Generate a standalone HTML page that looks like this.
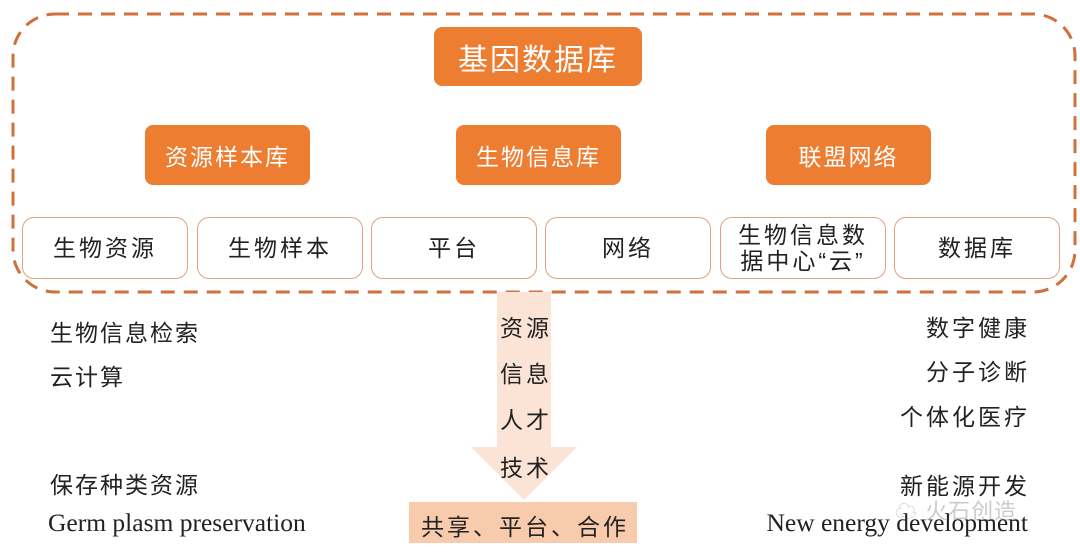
<html><head><style>
body{margin:0;width:1080px;height:557px;background:#fff;position:relative;font-family:"Liberation Sans","Noto Sans CJK SC",sans-serif;overflow:hidden}
.a{position:absolute}
.o{position:absolute;background:#ED7D31;color:#fff;border-radius:8px;display:flex;align-items:center;justify-content:center;letter-spacing:2px}
.w{position:absolute;border:1.5px solid #E0A080;border-radius:12px;background:#fff;display:flex;align-items:center;justify-content:center;font-size:23px;color:#222;letter-spacing:3px;text-align:center;line-height:26px}
.t{position:absolute;font-size:23px;color:#222;letter-spacing:2px;white-space:nowrap}
</style></head><body>
<svg class="a" style="left:0;top:0" width="1080" height="557">
<rect x="13" y="14" width="1062" height="278" rx="42" fill="none" stroke="#D0703A" stroke-width="3" stroke-dasharray="14,9"/>
<polygon points="497,292 551,292 551,447 577,447 524,500 471,447 497,447" fill="#FBE3D6"/>
<rect x="409" y="502" width="228" height="41" fill="#F8CBAD"/>
</svg>
<div class="o" style="left:434px;top:27px;width:208px;height:59px;font-size:30px">基因数据库</div>
<div class="o" style="left:145px;top:125px;width:165px;height:60px;font-size:23px">资源样本库</div>
<div class="o" style="left:456px;top:125px;width:165px;height:60px;font-size:23px">生物信息库</div>
<div class="o" style="left:766px;top:125px;width:165px;height:60px;font-size:23px">联盟网络</div>
<div class="w" style="left:22px;top:217px;width:164px;height:60px">生物资源</div>
<div class="w" style="left:197px;top:217px;width:164px;height:60px">生物样本</div>
<div class="w" style="left:371px;top:217px;width:164px;height:60px">平台</div>
<div class="w" style="left:545px;top:217px;width:164px;height:60px">网络</div>
<div class="w" style="left:720px;top:217px;width:164px;height:60px">生物信息数<br>据中心“云”</div>
<div class="w" style="left:894px;top:217px;width:164px;height:60px">数据库</div>
<div class="t" style="left:50px;top:314px">生物信息检索</div>
<div class="t" style="left:50px;top:358px">云计算</div>
<div class="t" style="left:50px;top:466px">保存种类资源</div>
<div class="t" style="left:48px;top:508px;font-family:'Liberation Serif',serif;letter-spacing:0;font-size:25.5px">Germ plasm preservation</div>
<div class="t" style="left:500px;top:309px;letter-spacing:3px">资源</div>
<div class="t" style="left:500px;top:355px;letter-spacing:3px">信息</div>
<div class="t" style="left:500px;top:401px;letter-spacing:3px">人才</div>
<div class="t" style="left:500px;top:449px;letter-spacing:3px">技术</div>
<div class="t" style="left:421px;top:508px;letter-spacing:3px">共享、平台、合作</div>
<div class="t" style="right:50px;top:309px;letter-spacing:3px">数字健康</div>
<div class="t" style="right:50px;top:353px;letter-spacing:3px">分子诊断</div>
<div class="t" style="right:50px;top:398px;letter-spacing:3px">个体化医疗</div>
<div class="t" style="right:50px;top:467px;letter-spacing:3px">新能源开发</div>
<div class="t" style="left:895px;top:494px;color:#ccc;font-size:22px;letter-spacing:1px">☁ 火石创造</div>
<div class="t" style="right:52px;top:508px;font-family:'Liberation Serif',serif;letter-spacing:0;font-size:25.5px">New energy development</div>
</body></html>
